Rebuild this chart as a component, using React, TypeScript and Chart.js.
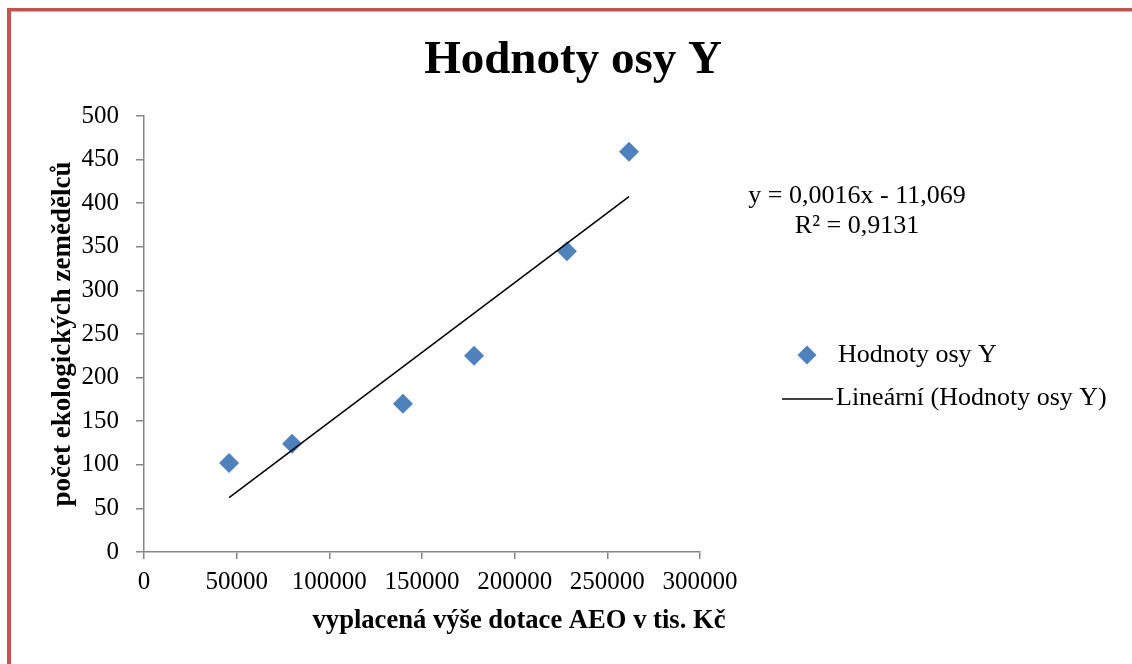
import React, { useEffect, useRef } from "react";
import { Chart, registerables } from "chart.js";

Chart.register(...registerables);

const CHART_TITLE = "Hodnoty osy Y";
const SERIES_NAME = "Hodnoty osy Y";
const TREND_NAME = "Lineární (Hodnoty osy Y)";
const X_AXIS_TITLE = "vyplacená výše dotace AEO v tis. Kč";
const Y_AXIS_TITLE = "počet ekologických zemědělců";

const X_VALUES = [45900, 79900, 139700, 178100, 228200, 261700];
const Y_VALUES = [102, 124, 170, 225, 345, 459];

const X_TICKS = [0, 50000, 100000, 150000, 200000, 250000, 300000];
const Y_TICKS = [0, 50, 100, 150, 200, 250, 300, 350, 400, 450, 500];

const TREND_SLOPE = 0.0016;
const TREND_INTERCEPT = -11.069;
const EQUATION_LINES = ["y = 0,0016x - 11,069", "R² = 0,9131"];

const SERIF = "'Liberation Serif', 'Times New Roman', serif";
const MARKER_COLOR = "#4F81BD";
const AXIS_COLOR = "#868686";
const FRAME_COLOR = "#C4524F";

const overlayPlugin = {
  id: "overlay",
  beforeDraw(chart: any) {
    const ctx = chart.ctx;
    ctx.save();
    ctx.fillStyle = "#ffffff";
    ctx.fillRect(0, 0, chart.width, chart.height);
    ctx.fillStyle = FRAME_COLOR;
    ctx.fillRect(7, 8, 4, chart.height - 8);
    ctx.fillRect(7, 8, chart.width - 7, 3.5);
    ctx.restore();
  },
  afterDraw(chart: any) {
    const ctx = chart.ctx;
    ctx.save();
    ctx.fillStyle = "#000";
    // chart title
    ctx.font = `bold 47px ${SERIF}`;
    ctx.textAlign = "center";
    ctx.textBaseline = "alphabetic";
    ctx.fillText(CHART_TITLE, 573, 73);
    // x axis title
    ctx.font = `bold 26.6px ${SERIF}`;
    ctx.fillText(X_AXIS_TITLE, 519, 628);
    // equation
    ctx.font = `26px ${SERIF}`;
    ctx.fillText(EQUATION_LINES[0], 857, 203);
    ctx.fillText(EQUATION_LINES[1], 857, 233);
    // legend
    ctx.textAlign = "left";
    ctx.textBaseline = "middle";
    ctx.fillStyle = MARKER_COLOR;
    const mx = 807, my = 355, r = 9.5;
    ctx.beginPath();
    ctx.moveTo(mx - r, my);
    ctx.lineTo(mx, my - r);
    ctx.lineTo(mx + r, my);
    ctx.lineTo(mx, my + r);
    ctx.closePath();
    ctx.fill();
    ctx.fillStyle = "#000";
    ctx.fillText(SERIES_NAME, 838, 355);
    ctx.strokeStyle = "#000";
    ctx.lineWidth = 1.5;
    ctx.beginPath();
    ctx.moveTo(782, 399);
    ctx.lineTo(833, 399);
    ctx.stroke();
    ctx.fillText(TREND_NAME, 836, 398);
    ctx.restore();
  },
};

export default function App() {
  const canvasRef = useRef<HTMLCanvasElement | null>(null);

  useEffect(() => {
    const canvas = canvasRef.current;
    if (!canvas) return;
    const points = X_VALUES.map((x, i) => ({ x, y: Y_VALUES[i] }));
    const xMin = Math.min(...X_VALUES);
    const xMax = Math.max(...X_VALUES);
    const trend = [xMin, xMax].map((x) => ({ x, y: TREND_SLOPE * x + TREND_INTERCEPT }));

    const chart = new Chart(canvas, {
      type: "scatter",
      data: {
        datasets: [
          {
            type: "line",
            label: TREND_NAME,
            data: trend,
            borderColor: "#000",
            borderWidth: 1.5,
            pointRadius: 0,
            showLine: true,
            fill: false,
            order: 0,
          } as any,
          {
            label: SERIES_NAME,
            data: points,
            pointStyle: "rectRot",
            pointRadius: 10,
            pointHoverRadius: 10,
            backgroundColor: MARKER_COLOR,
            borderColor: MARKER_COLOR,
            borderWidth: 0,
            order: 1,
          },
        ],
      },
      options: {
        responsive: false,
        animation: false,
        devicePixelRatio: 1,
        events: [],
        layout: { padding: { left: 0, right: 432, top: 116, bottom: 0 } },
        plugins: {
          legend: { display: false },
          tooltip: { enabled: false },
          title: { display: false },
        },
        scales: {
          x: {
            type: "linear",
            min: 0,
            max: 300000,
            afterBuildTicks: (s: any) => {
              s.ticks = X_TICKS.map((v) => ({ value: v }));
            },
            afterFit: (s: any) => {
              s.height = 112;
            },
            ticks: {
              font: { family: SERIF, size: 25 },
              color: "#000",
              padding: 8,
              maxRotation: 0,
              autoSkip: false,
              callback: (v: any) => String(v),
            },
            grid: {
              display: true,
              drawOnChartArea: false,
              drawTicks: true,
              tickLength: 7,
              color: AXIS_COLOR,
              lineWidth: 1.5,
            },
            border: { display: true, color: AXIS_COLOR, width: 1.5 },
          },
          y: {
            type: "linear",
            min: 0,
            max: 500,
            afterBuildTicks: (s: any) => {
              s.ticks = Y_TICKS.map((v) => ({ value: v }));
            },
            afterFit: (s: any) => {
              s.width = 144;
            },
            ticks: {
              font: { family: SERIF, size: 25 },
              color: "#000",
              padding: 17,
              autoSkip: false,
              callback: (v: any) => String(v),
            },
            grid: {
              display: true,
              drawOnChartArea: false,
              drawTicks: true,
              tickLength: 8,
              color: AXIS_COLOR,
              lineWidth: 1.5,
            },
            border: { display: true, color: AXIS_COLOR, width: 1.5 },
            title: {
              display: true,
              text: Y_AXIS_TITLE,
              font: { family: SERIF, size: 27, weight: "bold" },
              color: "#000",
              padding: { top: 47, bottom: 0 },
            },
          },
        },
      },
      plugins: [overlayPlugin],
    });

    return () => chart.destroy();
  }, []);

  return (
    <div style={{ position: "absolute", left: 0, top: 0, width: 1132, height: 664, background: "#fff" }}>
      <canvas ref={canvasRef} width={1132} height={664} style={{ display: "block", width: 1132, height: 664 }} />
    </div>
  );
}
